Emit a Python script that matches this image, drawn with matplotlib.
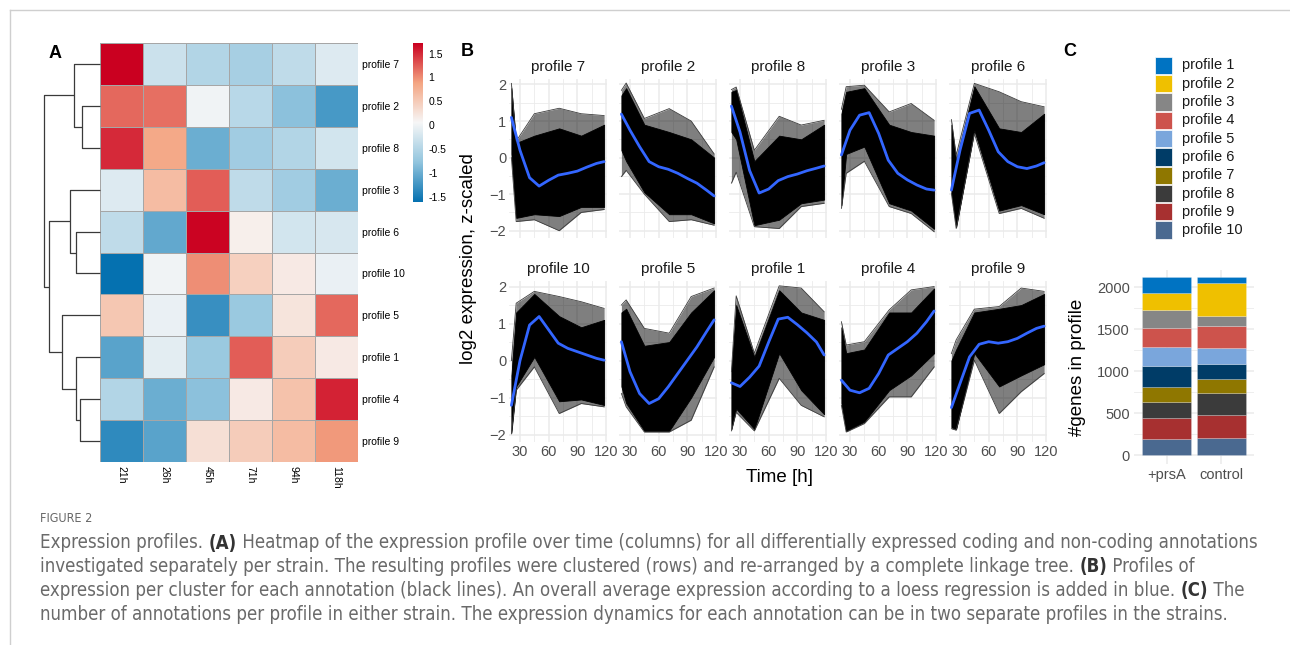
import matplotlib
matplotlib.use("Agg")
import matplotlib.pyplot as plt
import numpy as np
from matplotlib import font_manager
from matplotlib.colors import LinearSegmentedColormap
from matplotlib.patches import Rectangle
from matplotlib.lines import Line2D

W, H = 1290, 645
FONT = "Liberation Sans"
plt.rcParams["font.family"] = [FONT, "DejaVu Sans"]

# ---------------- data ----------------
# panel A: heatmap, rows in dendrogram order, columns = time points
hm_rows = ["profile 7", "profile 2", "profile 8", "profile 3", "profile 6",
           "profile 10", "profile 5", "profile 1", "profile 4", "profile 9"]
hm_cols = ["21h", "26h", "45h", "71h", "94h", "118h"]
hm_values = [
    [1.72, -0.30, -0.50, -0.60, -0.40, -0.15],
    [1.20, 1.15, 0.00, -0.45, -0.80, -1.20],
    [1.50, 0.85, -1.00, -0.65, -0.50, -0.25],
    [-0.15, 0.65, 1.25, -0.40, -0.65, -1.00],
    [-0.40, -1.05, 1.70, 0.15, -0.25, -0.20],
    [-1.60, 0.00, 1.00, 0.45, 0.20, -0.05],
    [0.55, -0.05, -1.30, -0.70, 0.25, 1.20],
    [-1.10, -0.10, -0.70, 1.25, 0.50, 0.20],
    [-0.50, -1.00, -0.80, 0.20, 0.60, 1.55],
    [-1.35, -1.10, 0.30, 0.50, 0.65, 0.95],
]
# complete-linkage merges on the displayed leaf order: (child a, child b, height)
dendro_merges = [
    (1, 2, 18.3), (8, 9, 20.0), (4, 5, 24.3), (7, 11, 24.3), (0, 10, 25.7),
    (3, 12, 30.0), (6, 13, 37.7), (15, 16, 50.7), (14, 17, 55.7),
]

# panel B: per-profile envelopes of the gene lines and the loess curve
times = [21, 26, 45, 71, 94, 118]
facet_order = ["profile 7", "profile 2", "profile 8", "profile 3", "profile 6",
               "profile 10", "profile 5", "profile 1", "profile 4", "profile 9"]
outer_hi = {
    "profile 7": [2.03, 0.45, 1.20, 1.35, 1.20, 1.15],
    "profile 2": [1.84, 2.04, 1.07, 1.34, 1.00, 0.10],
    "profile 8": [1.86, 1.93, 0.20, 1.13, 0.89, 1.02],
    "profile 3": [1.32, 1.94, 1.98, 1.25, 1.48, 1.02],
    "profile 6": [1.04, 0.07, 2.03, 1.80, 1.53, 1.39],
    "profile 10": [0.00, 1.55, 1.87, 1.73, 1.59, 1.41],
    "profile 5": [1.50, 1.64, 0.87, 0.74, 1.73, 1.96],
    "profile 1": [-0.30, 1.75, 0.20, 2.02, 1.96, 1.32],
    "profile 4": [1.05, 0.42, 0.51, 1.37, 1.91, 2.00],
    "profile 9": [0.19, 0.56, 1.39, 1.46, 1.96, 1.87],
}
outer_lo = {
    "profile 7": [0.00, -1.75, -1.70, -2.00, -1.50, -1.42],
    "profile 2": [-0.52, -0.35, -1.00, -1.75, -1.70, -1.85],
    "profile 8": [-0.70, -0.40, -1.89, -1.94, -1.34, -1.25],
    "profile 3": [-1.39, -0.43, -0.10, -1.34, -1.53, -2.03],
    "profile 6": [-0.98, -1.94, 0.66, -1.53, -1.39, -1.66],
    "profile 10": [-1.98, -0.80, -0.17, -1.43, -1.16, -1.25],
    "profile 5": [-0.89, -1.25, -1.93, -1.93, -1.61, -0.17],
    "profile 1": [-1.90, -1.40, -1.90, -0.48, -1.21, -1.52],
    "profile 4": [-1.21, -1.93, -1.70, -0.98, -0.98, -0.17],
    "profile 9": [-1.84, -1.88, 0.01, -1.43, -0.84, -0.35],
}
core_hi = {
    "profile 7": [1.90, 0.40, 0.60, 0.80, 0.60, 0.90],
    "profile 2": [1.70, 1.90, 0.90, 0.70, 0.50, 0.00],
    "profile 8": [1.80, 1.85, -0.10, 0.60, 0.50, 0.90],
    "profile 3": [1.20, 1.80, 1.90, 0.90, 0.70, 0.60],
    "profile 6": [0.90, -0.10, 1.95, 0.80, 0.70, 1.20],
    "profile 10": [-0.40, 1.30, 1.80, 1.20, 0.90, 1.10],
    "profile 5": [1.30, 1.40, 0.40, 0.50, 1.30, 1.90],
    "profile 1": [-0.30, 1.50, 0.10, 1.90, 1.30, 1.10],
    "profile 4": [0.90, 0.20, 0.30, 1.30, 1.30, 1.95],
    "profile 9": [0.00, 0.30, 1.30, 1.40, 1.50, 1.80],
}
core_lo = {
    "profile 7": [0.10, -1.65, -1.55, -1.60, -1.35, -1.35],
    "profile 2": [0.20, -0.10, -0.95, -1.55, -1.55, -1.80],
    "profile 8": [0.70, 0.50, -1.85, -1.70, -1.25, -1.15],
    "profile 3": [-1.30, 0.10, 0.30, -1.25, -1.45, -1.95],
    "profile 6": [-0.95, -1.90, 0.75, -1.45, -1.30, -1.55],
    "profile 10": [-1.95, -0.70, 0.10, -1.10, -1.05, -1.20],
    "profile 5": [-0.70, -1.15, -1.90, -1.90, -1.00, 0.10],
    "profile 1": [-1.85, -1.30, -1.85, 0.20, -0.80, -1.45],
    "profile 4": [-1.15, -1.90, -1.65, -0.80, -0.40, 0.20],
    "profile 9": [-1.80, -1.85, 0.20, -0.70, -0.40, -0.10],
}
loess_t = [21, 30, 40, 50, 60, 70, 80, 90, 100, 110, 118]
loess = {
    "profile 7": [1.10, 0.20, -0.55, -0.78, -0.62, -0.48, -0.43, -0.37, -0.26, -0.16, -0.11],
    "profile 2": [1.19, 0.75, 0.30, -0.11, -0.25, -0.32, -0.43, -0.57, -0.70, -0.89, -1.05],
    "profile 8": [1.41, 0.70, -0.35, -0.97, -0.86, -0.63, -0.52, -0.45, -0.36, -0.29, -0.23],
    "profile 3": [0.07, 0.75, 1.16, 1.23, 0.66, -0.07, -0.43, -0.61, -0.75, -0.86, -0.89],
    "profile 6": [-0.89, 0.20, 1.21, 1.30, 0.75, 0.16, -0.11, -0.25, -0.30, -0.23, -0.14],
    "profile 10": [-1.21, 0.00, 0.96, 1.19, 0.83, 0.47, 0.33, 0.24, 0.15, 0.06, 0.01],
    "profile 5": [0.51, -0.30, -0.89, -1.16, -1.03, -0.71, -0.35, 0.01, 0.37, 0.78, 1.10],
    "profile 1": [-0.60, -0.70, -0.45, -0.15, 0.50, 1.12, 1.17, 0.97, 0.75, 0.50, 0.15],
    "profile 4": [-0.53, -0.80, -0.87, -0.75, -0.35, 0.15, 0.33, 0.51, 0.74, 1.05, 1.34],
    "profile 9": [-1.27, -0.62, 0.10, 0.44, 0.51, 0.47, 0.51, 0.60, 0.74, 0.87, 0.93],
}

# panel C: genes per profile in each strain
strains = ["+prsA", "control"]
profiles = ["profile 1", "profile 2", "profile 3", "profile 4", "profile 5",
            "profile 6", "profile 7", "profile 8", "profile 9", "profile 10"]
counts_prsA = [192, 203, 219, 219, 235, 243, 180, 191, 251, 191]
counts_control = [76, 387, 119, 271, 183, 180, 167, 267, 271, 203]
jco = ["#0073C2", "#EFC000", "#868686", "#CD534C", "#7AA6DC",
       "#003C67", "#8F7700", "#3B3B3B", "#A73030", "#4A6990"]

caption_title = "FIGURE 2"
caption_lines = [
    [("Expression profiles. ", False), ("(A)", True),
     (" Heatmap of the expression profile over time (columns) for all differentially expressed coding and non-coding annotations", False)],
    [("investigated separately per strain. The resulting profiles were clustered (rows) and re-arranged by a complete linkage tree. ", False),
     ("(B)", True), (" Profiles of", False)],
    [("expression per cluster for each annotation (black lines). An overall average expression according to a loess regression is added in blue. ", False),
     ("(C)", True), (" The", False)],
    [("number of annotations per profile in either strain. The expression dynamics for each annotation can be in two separate profiles in the strains.", False)],
]


def box(x0, y0, x1, y1):
    return [x0 / W, 1 - y1 / H, (x1 - x0) / W, (y1 - y0) / H]


fig = plt.figure(figsize=(W / 100, H / 100), dpi=100)
fig.patch.set_facecolor("white")

# frame lines of the page
fig.add_artist(Line2D([9.5 / W, 1], [1 - 10 / H, 1 - 10 / H], color="#cfcfcf", lw=1))
fig.add_artist(Line2D([9.5 / W, 9.5 / W], [0, 1 - 10 / H], color="#cfcfcf", lw=1))

# ---------------- panel A ----------------
cmap = LinearSegmentedColormap.from_list(
    "rdbu5", ["#0571b0", "#92c5de", "#f7f7f7", "#f4a582", "#ca0020"])
vmin, vmax = -1.6, 1.72
axh = fig.add_axes(box(100, 43, 358, 462))
axh.pcolormesh(np.array(hm_values), cmap=cmap, vmin=vmin, vmax=vmax,
               edgecolors="#a6a6a6", linewidth=0.7)
axh.set_xlim(0, len(hm_cols))
axh.set_ylim(len(hm_rows), 0)
axh.set_yticks(np.arange(len(hm_rows)) + 0.5)
axh.set_yticklabels(hm_rows, fontsize=7.5)
axh.yaxis.tick_right()
axh.set_xticks(np.arange(len(hm_cols)) + 0.5)
axh.set_xticklabels(hm_cols, fontsize=7.5, rotation=-90)
axh.tick_params(length=0, pad=3)
for s in axh.spines.values():
    s.set_visible(False)

# dendrogram
axd = fig.add_axes(box(44, 43, 100, 462))
pos = {i: i + 0.5 for i in range(len(hm_rows))}
hgt = {i: 0.0 for i in range(len(hm_rows))}
for k, (a, b, h) in enumerate(dendro_merges):
    node = len(hm_rows) + k
    axd.plot([hgt[a], h, h, hgt[b]], [pos[a], pos[a], pos[b], pos[b]],
             color="#3a3a3a", lw=0.9, clip_on=False, solid_capstyle="butt")
    pos[node] = (pos[a] + pos[b]) / 2
    hgt[node] = h
axd.set_xlim(dendro_merges[-1][2], 0)
axd.set_ylim(len(hm_rows), 0)
axd.axis("off")

# colour bar
axc = fig.add_axes(box(413, 43, 423, 202))
grad = np.linspace(vmin, vmax, 256).reshape(-1, 1)
axc.imshow(grad, aspect="auto", cmap=cmap, vmin=vmin, vmax=vmax,
           origin="lower", extent=[0, 1, vmin, vmax])
axc.set_xticks([])
axc.yaxis.tick_right()
cb_ticks = [-1.5, -1, -0.5, 0, 0.5, 1, 1.5]
axc.set_yticks(cb_ticks)
axc.set_yticklabels(["-1.5", "-1", "-0.5", "0", "0.5", "1", "1.5"], fontsize=7.5)
axc.tick_params(length=0, pad=4)
for s in axc.spines.values():
    s.set_visible(False)

fig.text(55 / W, 1 - 53 / H, "A", fontsize=13, fontweight="bold", ha="center", va="center")

# ---------------- panel B ----------------
grid_c = "#ebebeb"
tick_c = "#4d4d4d"
for idx, prof in enumerate(facet_order):
    r, c = divmod(idx, 5)
    x0 = 509 + 110 * c
    y0, y1 = (79, 238) if r == 0 else (281, 442)
    ax = fig.add_axes(box(x0, y0, x0 + 98, y1))
    ax.set_xlim(18.5, 121)
    ax.set_ylim(-2.2, 2.15)
    ax.set_xticks([30, 60, 90, 120])
    ax.set_xticks([45, 75, 105], minor=True)
    ax.set_yticks([-2, -1, 0, 1, 2])
    ax.set_yticks([-1.5, -0.5, 0.5, 1.5], minor=True)
    ax.grid(True, which="major", color=grid_c, lw=1.1)
    ax.grid(True, which="minor", color=grid_c, lw=0.6)
    ax.set_axisbelow(True)
    for s in ax.spines.values():
        s.set_visible(False)
    ax.tick_params(which="both", length=0, labelsize=10.5, labelcolor=tick_c, pad=2)
    if c != 0:
        ax.set_yticklabels([])
    if r == 0:
        ax.set_xticklabels([])
    ax.fill_between(times, outer_lo[prof], outer_hi[prof], color="black",
                    alpha=0.5, lw=0)
    ax.plot(times, outer_hi[prof], color="#3c3c3c", lw=0.6)
    ax.plot(times, outer_lo[prof], color="#3c3c3c", lw=0.6)
    ax.fill_between(times, core_lo[prof], core_hi[prof], color="black", lw=0.6,
                    edgecolor="black")
    ax.plot(loess_t, loess[prof], color="#3366FF", lw=2.0, solid_capstyle="round")
    ax.set_title(prof, fontsize=11, color="#1a1a1a", pad=6)

fig.text(468 / W, 1 - 259 / H, "log2 expression, z-scaled", rotation=90,
         fontsize=13.5, ha="center", va="center")
fig.text(779 / W, 1 - 477 / H, "Time [h]", fontsize=13.5, ha="center", va="center")
fig.text(467 / W, 1 - 52 / H, "B", fontsize=13, fontweight="bold", ha="center", va="center")

# ---------------- panel C ----------------
axb = fig.add_axes(box(1134, 270, 1254, 464))
per_strain = np.array([counts_prsA, counts_control])
bottom = np.zeros(len(strains))
for j in range(len(profiles) - 1, -1, -1):
    axb.bar(range(len(strains)), per_strain[:, j], bottom=bottom, width=0.9,
            color=jco[j], edgecolor=(1, 1, 1, 0.35), linewidth=0.4)
    bottom += per_strain[:, j]
axb.set_xlim(-0.6, 1.6)
axb.set_ylim(-107, 2207)
axb.set_xticks(range(len(strains)))
axb.set_xticklabels(strains)
axb.set_yticks([0, 500, 1000, 1500, 2000])
axb.set_yticks([250, 750, 1250, 1750], minor=True)
axb.grid(True, which="major", color=grid_c, lw=1.1)
axb.grid(True, which="minor", axis="y", color=grid_c, lw=0.6)
axb.set_axisbelow(True)
for s in axb.spines.values():
    s.set_visible(False)
axb.tick_params(which="both", length=0, labelsize=10.5, labelcolor=tick_c, pad=3)
fig.text(1077 / W, 1 - 367 / H, "#genes in profile", rotation=90,
         fontsize=13.5, ha="center", va="center")

# legend
for j, (lab, col) in enumerate(zip(profiles, jco)):
    ytop = 56.7 + 18.3 * j
    fig.add_artist(Rectangle((1155 / W, 1 - (ytop + 17.3) / H), 17 / W, 17.3 / H,
                             transform=fig.transFigure, facecolor=col, edgecolor="white",
                             lw=0.5))
    fig.text(1182 / W, 1 - (ytop + 8.8) / H, lab, fontsize=10.5, va="center", ha="left",
             color="#1a1a1a")
fig.text(1070 / W, 1 - 52 / H, "C", fontsize=13, fontweight="bold", ha="center", va="center")

# ---------------- caption ----------------
cap_font = "DejaVu Sans"
cap_stretch = "normal"
for f in font_manager.fontManager.ttflist:
    if f.name == "Liberation Sans Narrow":
        cap_font, cap_stretch = "Liberation Sans Narrow", "normal"
        break
    if f.name == "DejaVu Sans" and f.stretch == "condensed":
        cap_stretch = "condensed"
renderer = fig.canvas.get_renderer()
fig.text(40 / W, 1 - 518 / H, caption_title, fontsize=9, color="#666666",
         family=cap_font, stretch=cap_stretch, va="center")


def draw_line(pieces, y, size):
    x = 40.0
    for txt, bold in pieces:
        t = fig.text(x / W, 1 - y / H, txt, fontsize=size, family=cap_font,
                     stretch=cap_stretch, color="#333333" if bold else "#6a6a6a",
                     fontweight="bold" if bold else "normal", va="center")
        x += t.get_window_extent(renderer).width
    return x


probe = fig.text(0, 0, "".join(p for p, _ in caption_lines[0]), fontsize=10,
                 family=cap_font, stretch=cap_stretch)
w10 = probe.get_window_extent(renderer).width
probe.remove()
cap_size = 10 * 1222 / w10
for k, pieces in enumerate(caption_lines):
    draw_line(pieces, 543 + 23.7 * k, cap_size)

fig.savefig("out.png", dpi=100)
